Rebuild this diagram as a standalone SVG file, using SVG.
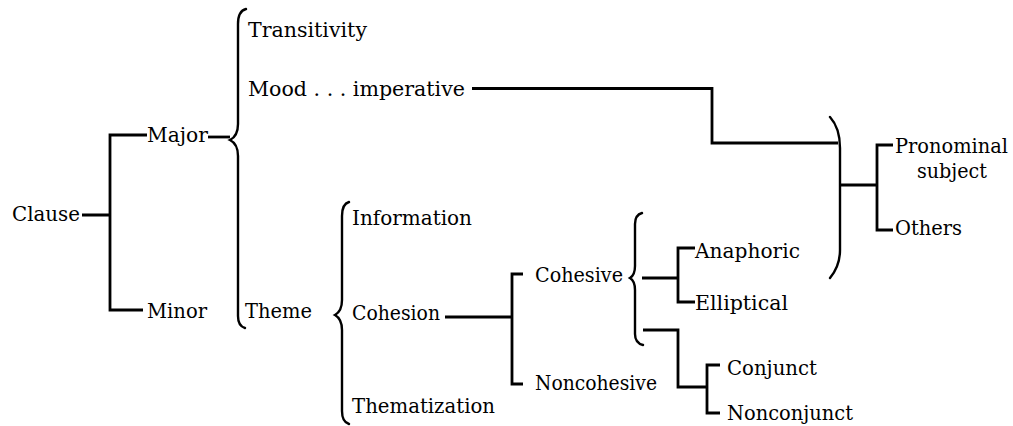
<svg xmlns="http://www.w3.org/2000/svg" width="1013" height="426" viewBox="0 0 1013 426">
<style>
text{font-family:"DejaVu Serif","Liberation Serif",serif;font-size:20px;fill:#000}
.c{fill:none;stroke:#000;stroke-width:2.8;stroke-linecap:butt;stroke-linejoin:miter}
.b{fill:none;stroke:#000;stroke-width:2.4;stroke-linecap:round}
</style>
<rect width="1013" height="426" fill="#fff"/>
<g id="connectors">
<path class="c" d="M82 215H110M147 135H110V310H143"/>
<path class="c" d="M208 137H230"/>
<path class="b" d="M246 9Q238 11 238 24V124Q238 136 230 140Q238 144 238 156V316Q238 326 245 328"/>
<path class="c" d="M472 88.5H712V143H838"/>
<path class="b" d="M830 117Q840 128 840 148V250Q840 266 830 278"/>
<path class="c" d="M840 185H877M893 145H877V230H893"/>
<path class="b" d="M349 202Q342 204 342 216V300Q342 311 335 315Q342 319 342 330V411Q342 422 349 424"/>
<path class="c" d="M445 317H512M523 274H512V384H523"/>
<path class="b" d="M642 213Q635 215 635 224V266Q635 275 630 278Q635 281 635 290V334Q635 343 643 345"/>
<path class="c" d="M642 278H678M695 248H678V302H695"/>
<path class="c" d="M643 330H678V387H707M720 365H707V413H720"/>
</g>
<g id="clause"><text x="12" y="221" textLength="68" lengthAdjust="spacingAndGlyphs">Clause</text></g>
<g id="major"><text x="147" y="142" textLength="61" lengthAdjust="spacingAndGlyphs">Major</text></g>
<g id="minor"><text x="147" y="318" textLength="60" lengthAdjust="spacingAndGlyphs">Minor</text></g>
<g id="transitivity"><text x="248" y="37" textLength="119" lengthAdjust="spacingAndGlyphs">Transitivity</text></g>
<g id="mood"><text x="248" y="96" textLength="217" lengthAdjust="spacingAndGlyphs">Mood . . . imperative</text></g>
<g id="theme"><text x="245" y="318" textLength="67" lengthAdjust="spacingAndGlyphs">Theme</text></g>
<g id="information"><text x="352" y="225" textLength="120" lengthAdjust="spacingAndGlyphs">Information</text></g>
<g id="cohesion"><text x="352" y="320" textLength="88" lengthAdjust="spacingAndGlyphs">Cohesion</text></g>
<g id="thematization"><text x="352" y="413" textLength="143" lengthAdjust="spacingAndGlyphs">Thematization</text></g>
<g id="cohesive"><text x="535" y="282" textLength="88" lengthAdjust="spacingAndGlyphs">Cohesive</text></g>
<g id="noncohesive"><text x="535" y="390" textLength="122" lengthAdjust="spacingAndGlyphs">Noncohesive</text></g>
<g id="anaphoric"><text x="695" y="258" textLength="105" lengthAdjust="spacingAndGlyphs">Anaphoric</text></g>
<g id="elliptical"><text x="695" y="310" textLength="93" lengthAdjust="spacingAndGlyphs">Elliptical</text></g>
<g id="conjunct"><text x="727" y="375" textLength="90" lengthAdjust="spacingAndGlyphs">Conjunct</text></g>
<g id="nonconjunct"><text x="727" y="420" textLength="126" lengthAdjust="spacingAndGlyphs">Nonconjunct</text></g>
<g id="pronominal"><text x="895" y="153" textLength="113" lengthAdjust="spacingAndGlyphs">Pronominal</text><text x="917" y="178" textLength="70" lengthAdjust="spacingAndGlyphs">subject</text></g>
<g id="others"><text x="895" y="235" textLength="67" lengthAdjust="spacingAndGlyphs">Others</text></g>
</svg>
